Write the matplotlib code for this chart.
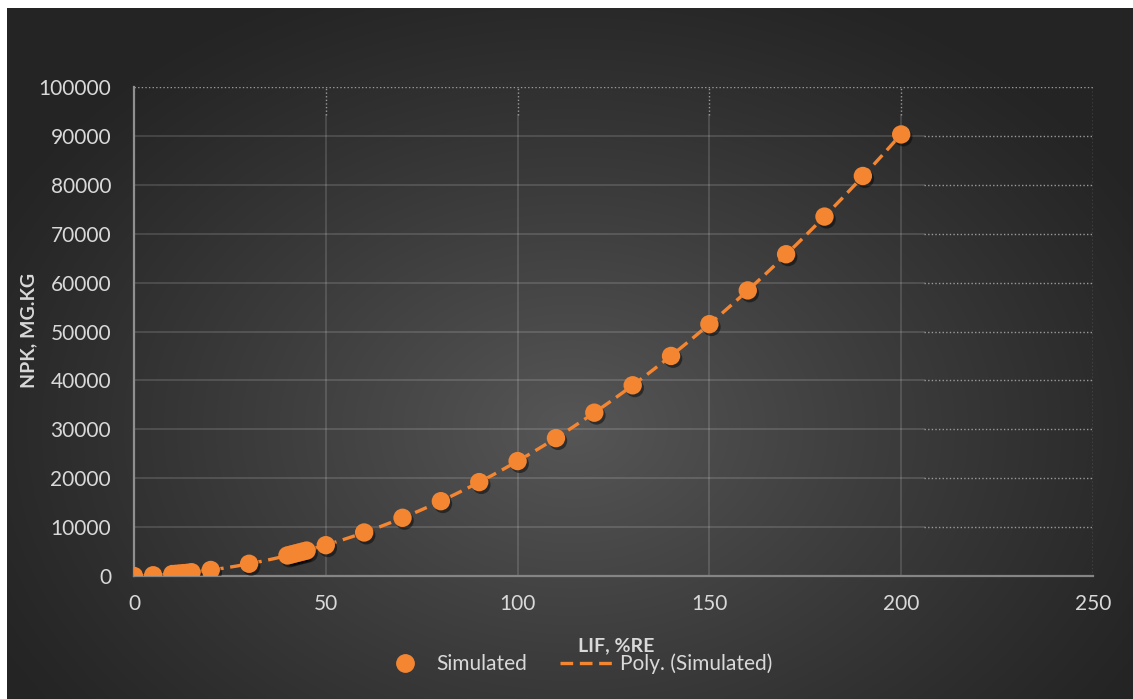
import numpy as np
import matplotlib
matplotlib.use("Agg")
import matplotlib.pyplot as plt
import matplotlib.patheffects as pe
from matplotlib.lines import Line2D

# Simulated NPK load against LIF (%RE)
lif = [0, 5, 10, 11, 12, 13, 14, 15, 20, 30, 40, 41, 42, 43, 44, 45,
       50, 60, 70, 80, 90, 100, 110, 120, 130, 140, 150, 160, 170, 180, 190, 200]
npk = [0, 150, 400, 450, 520, 590, 660, 770, 1230, 2500, 4200, 4400, 4600, 4800, 5000, 5200,
       6300, 8900, 11900, 15300, 19200, 23500, 28200, 33400, 39000, 45000, 51500, 58400, 65800, 73500, 81800, 90300]

x_ticks = [0, 50, 100, 150, 200, 250]
y_ticks = list(range(0, 100001, 10000))
series_label = "Simulated"
trend_label = "Poly. (Simulated)"
x_title = "LIF, %RE"
y_title = "NPK, MG.KG"

ORANGE = "#F48632"
TEXT = "#D9D9D9"
FONT = "Lato"

W, H = 1133, 699
fig = plt.figure(figsize=(W / 100, H / 100), dpi=100, facecolor="white")

# radial dark-grey backdrop
bg = fig.add_axes([7 / W, 0, 1 - 7 / W, 1 - 8 / H], zorder=-10)
bg.set_axis_off()
gx, gy = np.meshgrid(np.arange(W - 7), np.arange(H - 8))
cx, cy, rx, ry = 565, 420, 640, 470
r = np.sqrt(((gx - cx) / rx) ** 2 + ((gy - cy) / ry) ** 2)
shade = 37 + (86 - 37) * np.clip(1 - r, 0, 1) ** 1.1
img = np.dstack([shade, shade, shade]) / 255.0
bg.imshow(img, aspect="auto", extent=[0, 1, 0, 1], origin="upper")
bg.set_xlim(0, 1)
bg.set_ylim(0, 1)

ax = fig.add_axes([134 / W, 1 - 576 / H, (1093 - 134) / W, (576 - 87) / H])
ax.patch.set_alpha(0)
ax.set_xlim(0, 250)
ax.set_ylim(0, 100000)
ax.set_xticks(x_ticks)
ax.set_yticks(y_ticks)
ax.set_xticklabels([str(v) for v in x_ticks])
ax.set_yticklabels([str(v) for v in y_ticks])
ax.tick_params(length=0, labelsize=15, labelcolor=TEXT)
ax.tick_params(axis="y", pad=16.5)
ax.tick_params(axis="x", pad=13)
for lab in ax.get_xticklabels() + ax.get_yticklabels():
    lab.set_fontfamily(FONT)

for side in ("top", "right"):
    ax.spines[side].set_visible(False)
ax.spines["left"].set_color("#8f8f8f")
ax.spines["left"].set_linewidth(1.6)
ax.spines["bottom"].set_color("#858585")
ax.spines["bottom"].set_linewidth(1.6)

# gridlines: solid inside the plotted span, dotted beyond it
solid_xmax, solid_ymax = 206, 94300
grid_solid = dict(color="white", alpha=0.15, lw=1.3, zorder=0)
grid_dot = dict(color="#9a9a9a", lw=1.0, ls=(0, (1, 1.6)), zorder=0)
for yv in y_ticks[1:]:
    if yv >= solid_ymax:
        ax.plot([0, 250], [yv, yv], **grid_dot)
    else:
        ax.plot([0, solid_xmax], [yv, yv], **grid_solid)
        ax.plot([solid_xmax, 250], [yv, yv], **grid_dot)
for xv in x_ticks[1:]:
    if xv >= solid_xmax:
        ax.plot([xv, xv], [0, 100000], **grid_dot)
    else:
        ax.plot([xv, xv], [0, solid_ymax], **grid_solid)
        ax.plot([xv, xv], [solid_ymax, 100000], **grid_dot)

# second-order polynomial trendline
coef = np.polyfit(lif, npk, 2)
xf = np.linspace(min(lif), max(lif), 300)
ax.plot(xf, np.polyval(coef, xf), color=ORANGE, lw=2.4,
        ls=(0, (3.8, 2.0)), zorder=3)

ax.scatter(lif, npk, s=175, color=ORANGE, zorder=4, linewidths=0,
           path_effects=[pe.SimplePatchShadow(offset=(1.5, -2.0), shadow_rgbFace="black", alpha=0.45),
                         pe.Normal()])

ax.set_xlabel(x_title, fontsize=14, fontweight="bold", color=TEXT, fontfamily=FONT)
ax.set_ylabel(y_title, fontsize=14, fontweight="bold", color=TEXT, fontfamily=FONT)
ax.xaxis.set_label_coords(0.503, -0.143)
ax.xaxis.label.set_va("center")
ax.yaxis.set_label_coords(-0.110, 0.503)
ax.yaxis.label.set_va("center")

handles = [
    Line2D([], [], ls="none", marker="o", ms=12.5, color=ORANGE),
    Line2D([], [], color=ORANGE, lw=2.4, ls=(0, (3.8, 2.0))),
]
leg = fig.legend(handles, [series_label, trend_label], loc="center",
                 bbox_to_anchor=(0.507, 1 - 664 / H), ncol=2, frameon=False,
                 handlelength=2.7, handletextpad=0.15, columnspacing=1.6,
                 prop={"family": FONT, "size": 15})
for t in leg.get_texts():
    t.set_color(TEXT)

fig.savefig("out.png", dpi=100, facecolor="white")
